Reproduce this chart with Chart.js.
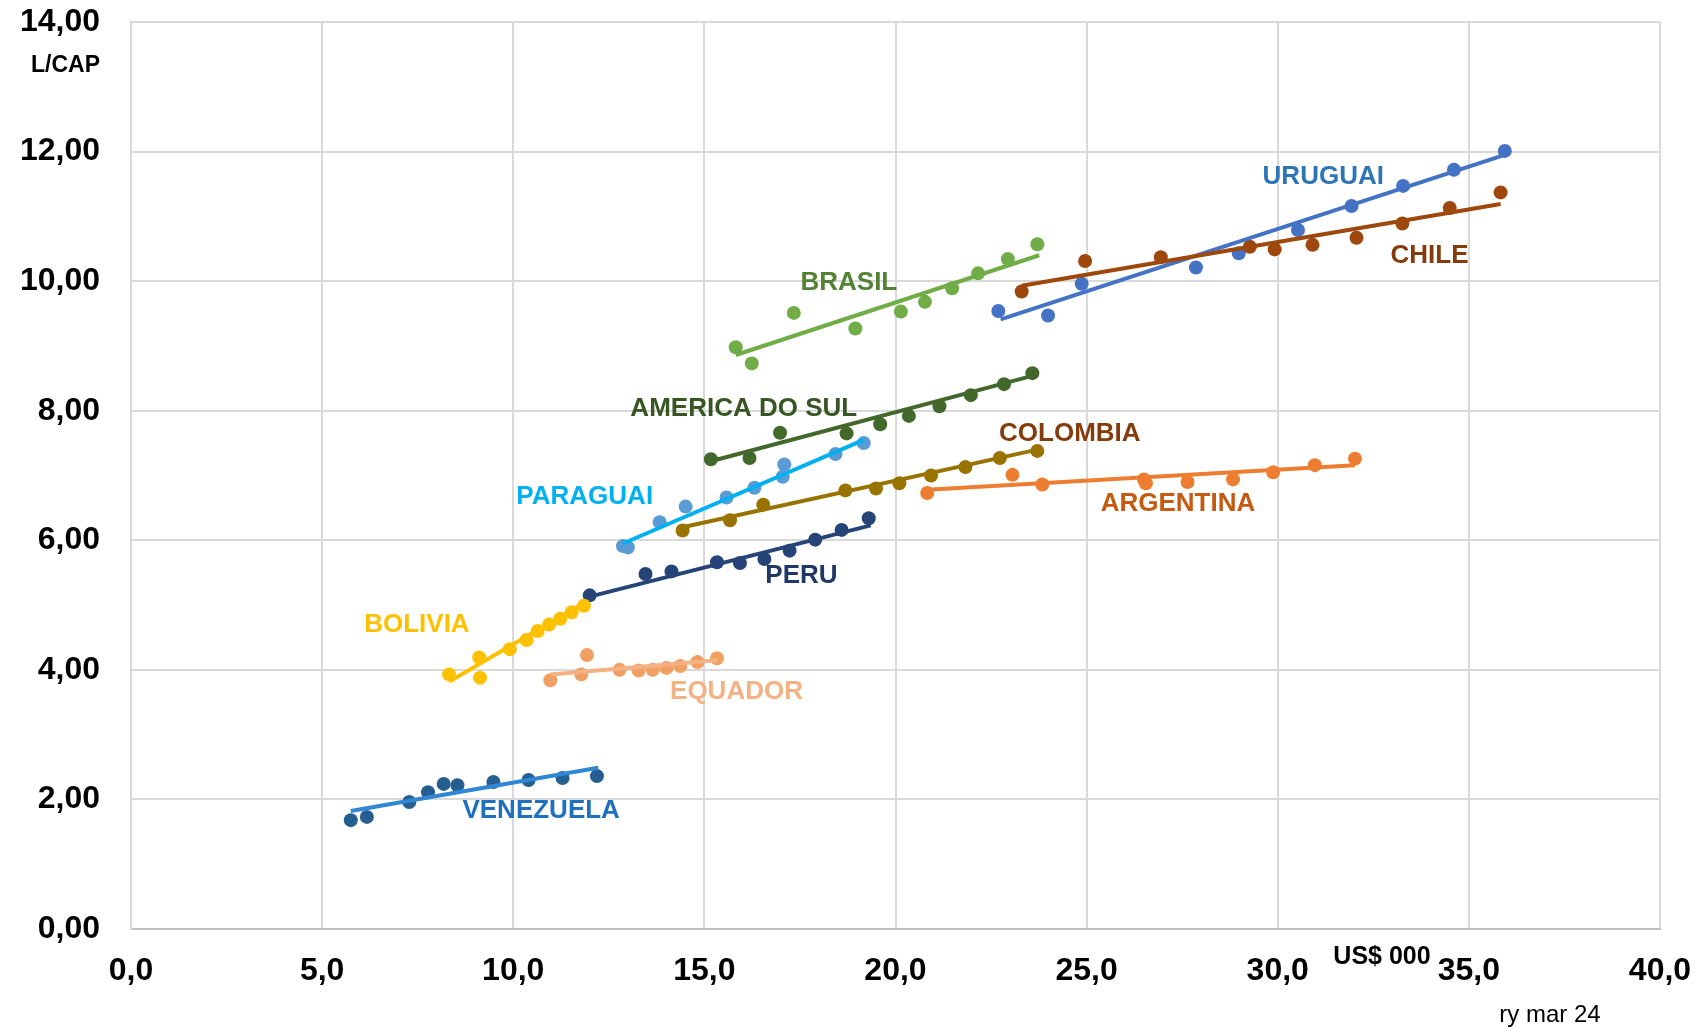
<!DOCTYPE html>
<html>
<head>
<meta charset="utf-8">
<script src="https://cdn.jsdelivr.net/npm/chart.js@4.4.1/dist/chart.umd.min.js"></script>
<style>
  html, body { margin: 0; padding: 0; background: #fff; }
  #wrap { width: 1699px; height: 1031px; position: relative; }
</style>
</head>
<body>
<div id="wrap"><canvas id="consumo"></canvas></div>
<script>
// eixos
const xTickLabels = ['0,0', '5,0', '10,0', '15,0', '20,0', '25,0', '30,0', '35,0', '40,0'];
const yTickLabels = ['0,00', '2,00', '4,00', '6,00', '8,00', '10,00', '12,00', '14,00'];

// pontos: x = renda per capita (US$ 000), y = L/CAP
const venezuelaX = [5.75, 6.17, 7.28, 7.77, 8.18, 8.54, 9.48, 10.40, 11.29, 12.19];
const venezuelaY = [1.68, 1.73, 1.96, 2.11, 2.24, 2.22, 2.27, 2.30, 2.33, 2.36];
const venezuelaTrendX = [5.75, 12.22];
const venezuelaTrendY = [1.82, 2.49];

const boliviaX = [8.32, 9.11, 9.13, 9.91, 10.35, 10.64, 10.94, 11.23, 11.53, 11.85];
const boliviaY = [3.93, 4.19, 3.88, 4.32, 4.46, 4.60, 4.70, 4.79, 4.89, 4.99];
const boliviaTrendX = [8.33, 11.9];
const boliviaTrendY = [3.82, 5.05];

const equadorX = [10.97, 11.78, 11.93, 12.78, 13.28, 13.65, 14.01, 14.37, 14.82, 15.33];
const equadorY = [3.84, 3.93, 4.23, 4.00, 3.99, 4.00, 4.03, 4.06, 4.12, 4.18];
const equadorTrendX = [10.97, 15.33];
const equadorTrendY = [3.93, 4.15];

const peruX = [12.0, 13.46, 14.14, 15.33, 15.93, 16.57, 17.23, 17.9, 18.59, 19.30];
const peruY = [5.15, 5.48, 5.52, 5.66, 5.65, 5.71, 5.84, 6.01, 6.16, 6.34];
const peruTrendX = [12.0, 19.35];
const peruTrendY = [5.13, 6.23];

const paraguaiX = [12.87, 13.0, 13.83, 14.51, 15.58, 16.31, 17.05, 17.09, 18.43, 19.17];
const paraguaiY = [5.91, 5.89, 6.28, 6.52, 6.66, 6.81, 6.98, 7.17, 7.33, 7.50];
const paraguaiTrendX = [12.87, 19.17];
const paraguaiTrendY = [5.95, 7.55];

const colombiaX = [14.43, 15.67, 16.54, 18.69, 19.49, 20.1, 20.93, 21.83, 22.73, 23.71];
const colombiaY = [6.15, 6.31, 6.55, 6.77, 6.80, 6.88, 7.00, 7.13, 7.27, 7.38];
const colombiaTrendX = [14.43, 23.71];
const colombiaTrendY = [6.20, 7.40];

const amSulX = [15.17, 16.18, 16.98, 18.72, 19.6, 20.35, 21.15, 21.97, 22.84, 23.58];
const amSulY = [7.25, 7.27, 7.66, 7.65, 7.79, 7.92, 8.07, 8.24, 8.41, 8.58];
const amSulTrendX = [15.17, 23.65];
const amSulTrendY = [7.22, 8.55];

const brasilX = [15.82, 16.24, 17.34, 18.95, 20.14, 20.77, 21.48, 22.16, 22.94, 23.71];
const brasilY = [8.98, 8.73, 9.51, 9.27, 9.53, 9.68, 9.89, 10.12, 10.34, 10.57];
const brasilTrendX = [15.82, 23.76];
const brasilTrendY = [8.86, 10.40];

const argentinaX = [20.83, 23.06, 23.84, 26.5, 26.55, 27.64, 28.83, 29.88, 30.97, 32.02];
const argentinaY = [6.73, 7.01, 6.86, 6.94, 6.88, 6.90, 6.94, 7.05, 7.16, 7.26];
const argentinaTrendX = [20.83, 32.02];
const argentinaTrendY = [6.78, 7.16];

const chileX = [23.3, 24.96, 26.94, 29.27, 29.92, 30.91, 32.06, 33.26, 34.50, 35.83];
const chileY = [9.84, 10.31, 10.37, 10.53, 10.49, 10.56, 10.67, 10.89, 11.13, 11.37];
const chileTrendX = [23.3, 35.83];
const chileTrendY = [9.93, 11.19];

const uruguaiX = [22.69, 23.99, 24.87, 27.86, 28.98, 30.53, 31.93, 33.28, 34.61, 35.94];
const uruguaiY = [9.54, 9.47, 9.96, 10.21, 10.43, 10.79, 11.16, 11.47, 11.72, 12.01];
const uruguaiTrendX = [22.75, 35.94];
const uruguaiTrendY = [9.41, 11.95];

const series = [
  { name: 'VENEZUELA', x: venezuelaX, y: venezuelaY, tx: venezuelaTrendX, ty: venezuelaTrendY },
  { name: 'BOLIVIA', x: boliviaX, y: boliviaY, tx: boliviaTrendX, ty: boliviaTrendY },
  { name: 'EQUADOR', x: equadorX, y: equadorY, tx: equadorTrendX, ty: equadorTrendY },
  { name: 'PERU', x: peruX, y: peruY, tx: peruTrendX, ty: peruTrendY },
  { name: 'PARAGUAI', x: paraguaiX, y: paraguaiY, tx: paraguaiTrendX, ty: paraguaiTrendY },
  { name: 'COLOMBIA', x: colombiaX, y: colombiaY, tx: colombiaTrendX, ty: colombiaTrendY },
  { name: 'AMERICA DO SUL', x: amSulX, y: amSulY, tx: amSulTrendX, ty: amSulTrendY },
  { name: 'BRASIL', x: brasilX, y: brasilY, tx: brasilTrendX, ty: brasilTrendY },
  { name: 'ARGENTINA', x: argentinaX, y: argentinaY, tx: argentinaTrendX, ty: argentinaTrendY },
  { name: 'CHILE', x: chileX, y: chileY, tx: chileTrendX, ty: chileTrendY },
  { name: 'URUGUAI', x: uruguaiX, y: uruguaiY, tx: uruguaiTrendX, ty: uruguaiTrendY },
];

// cores e posicao dos rotulos (em unidades do grafico)
const estilos = {
  'VENEZUELA':      { dot: '#255E91', line: '#2F86D2', text: '#1F70BD', lx: 10.73, ly: 1.82 },
  'BOLIVIA':        { dot: '#FFC000', line: '#FFC000', text: '#FFC000', lx: 7.48,  ly: 4.70 },
  'EQUADOR':        { dot: '#F19F63', line: '#F4B183', text: '#F4B183', lx: 15.84, ly: 3.66 },
  'PERU':           { dot: '#264478', line: '#264478', text: '#1F3864', lx: 17.54, ly: 5.45 },
  'PARAGUAI':       { dot: '#5B9BD5', line: '#00B0F0', text: '#00B0F0', lx: 11.87, ly: 6.67 },
  'COLOMBIA':       { dot: '#997300', line: '#997300', text: '#843C0C', lx: 24.56, ly: 7.64 },
  'AMERICA DO SUL': { dot: '#43682B', line: '#43682B', text: '#375623', lx: 16.03, ly: 8.03 },
  'BRASIL':         { dot: '#70AD47', line: '#70AD47', text: '#548235', lx: 18.78, ly: 9.97 },
  'ARGENTINA':      { dot: '#ED7D31', line: '#ED7D31', text: '#C55A11', lx: 27.39, ly: 6.56 },
  'CHILE':          { dot: '#9E480E', line: '#9E480E', text: '#843C0C', lx: 33.97, ly: 10.39 },
  'URUGUAI':        { dot: '#4472C4', line: '#4472C4', text: '#2E75B6', lx: 31.19, ly: 11.61 },
};

const FONTE = '"Liberation Sans", Arial, sans-serif';

const datasets = [];
series.forEach(s => {
  const st = estilos[s.name];
  datasets.push({
    label: s.name + ' tendencia',
    data: s.tx.map((v, i) => ({ x: v, y: s.ty[i] })),
    showLine: true,
    borderColor: st.line,
    borderWidth: 4,
    pointRadius: 0,
    order: 0,
  });
  datasets.push({
    label: s.name,
    data: s.x.map((v, i) => ({ x: v, y: s.y[i] })),
    backgroundColor: st.dot,
    borderColor: st.dot,
    pointRadius: 7,
    pointBorderWidth: 0,
    order: 1,
  });
});

const rotulos = {
  id: 'rotulos',
  afterDatasetsDraw(chart) {
    const { ctx, scales: { x, y }, chartArea } = chart;
    ctx.save();
    ctx.textAlign = 'center';
    ctx.textBaseline = 'middle';
    ctx.font = 'bold 26px ' + FONTE;
    series.forEach(s => {
      const st = estilos[s.name];
      ctx.fillStyle = st.text;
      ctx.fillText(s.name, x.getPixelForValue(st.lx), y.getPixelForValue(st.ly));
    });
    ctx.fillStyle = '#000';
    ctx.textAlign = 'right';
    ctx.font = 'bold 23px ' + FONTE;
    ctx.fillText('L/CAP', chartArea.left - 31, 66);
    ctx.textAlign = 'center';
    ctx.font = 'bold 25px ' + FONTE;
    ctx.fillText('US$ 000', 1382, 957);
    ctx.font = '24px ' + FONTE;
    ctx.fillText('ry mar 24', 1550, 1015);
    ctx.restore();
  }
};

new Chart(document.getElementById('consumo'), {
  type: 'scatter',
  data: { datasets },
  options: {
    responsive: true,
    maintainAspectRatio: false,
    animation: false,
    layout: { padding: { top: 22, right: 39, bottom: 0, left: 0 } },
    plugins: { legend: { display: false }, tooltip: { enabled: false } },
    scales: {
      x: {
        min: 0, max: 40,
        afterFit: (sc) => { sc.height = 102; sc.paddingLeft = 0; sc.paddingRight = 0; },
        ticks: {
          stepSize: 5,
          padding: 23,
          color: '#000',
          font: { family: FONTE, size: 32, weight: 'bold' },
          callback: (v, i) => xTickLabels[i],
        },
        grid: { color: '#D9D9D9', lineWidth: 2, drawTicks: false },
        border: { color: '#BFBFBF', width: 2 },
      },
      y: {
        min: 0, max: 14,
        afterFit: (sc) => { sc.width = 131; sc.paddingTop = 0; sc.paddingBottom = 0; },
        ticks: {
          stepSize: 2,
          padding: 31,
          color: '#000',
          font: { family: FONTE, size: 32, weight: 'bold' },
          callback: (v, i) => yTickLabels[i],
        },
        grid: { color: '#D9D9D9', lineWidth: 2, drawTicks: false },
        border: { color: '#D9D9D9', width: 2 },
      },
    },
  },
  plugins: [rotulos],
});
</script>
</body>
</html>
